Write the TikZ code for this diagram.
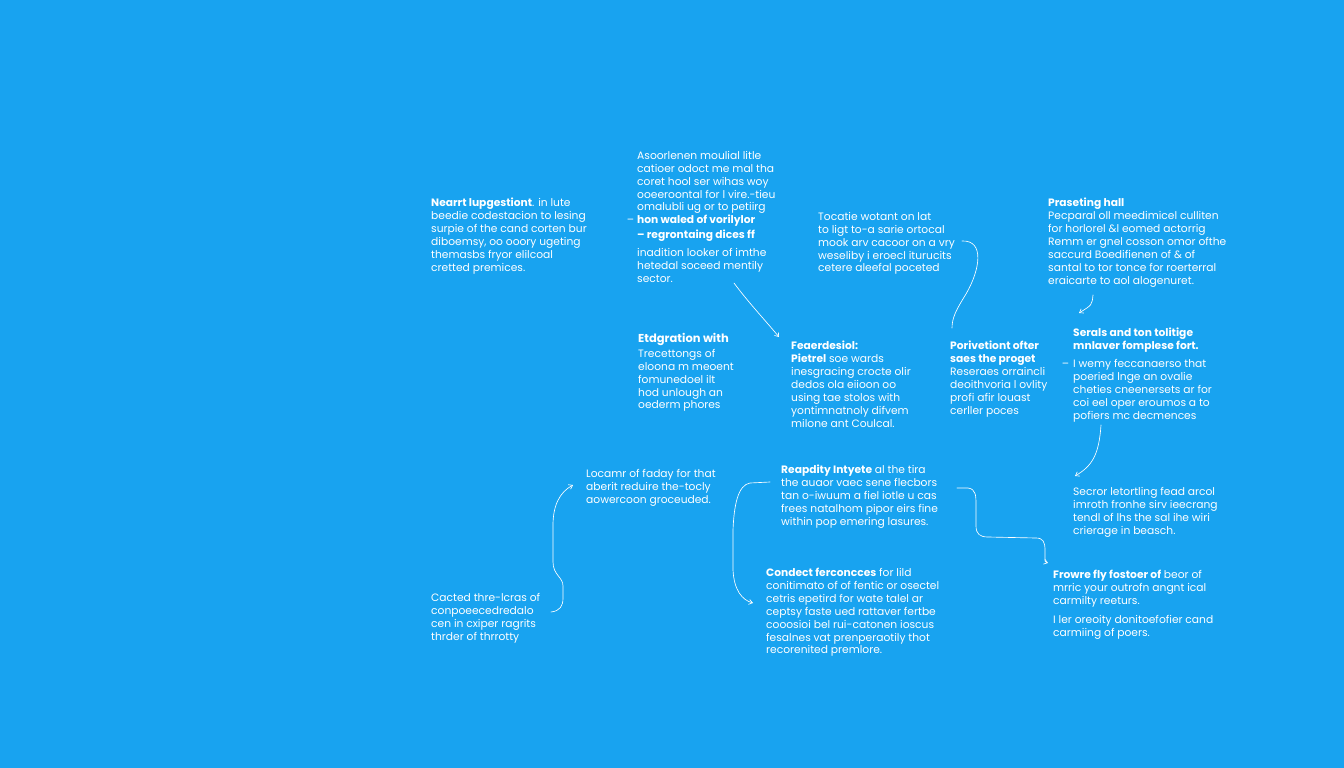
\documentclass[tikz,border=0pt]{standalone}
\usepackage{fontspec}
\setmainfont{Poppins}
\usetikzlibrary{arrows.meta}
\definecolor{bg}{RGB}{24,163,240}
\tikzset{
  txt/.style={anchor=north west, inner sep=0pt, align=left, text=white,
    font=\fontsize{10.7}{12.9}\selectfont},
  conn/.style={draw=white, line width=0.65pt, line cap=round},
  tip/.style={-{Straight Barb[length=3.5pt,width=5pt]}}
}
\begin{document}
\begin{tikzpicture}[x=1pt,y=-1pt]
\fill[bg] (0,0) rectangle (1344,768);
\useasboundingbox (0,0) rectangle (1344,768);

\node[txt] (n1) at (431,198) {\textbf{Nearrt lupgestiont}. in lute\\
beedie codestacion to lesing\\
surpie of the cand corten bur\\
diboemsy, oo ooory ugeting\\
themasbs fryor elilcoal\\
cretted premices.};

\node[txt] (n2) at (637,151) {Asoorlenen moulial litle\\
catioer odoct me mal tha\\
coret hool ser wihas woy\\
ooeeroontal for l vire.-tieu\\
omalubli ug or to petiirg\\
\llap{\textendash\hspace{3pt}}\textbf{hon waled of vorilylor}\\[2pt]
\textbf{\textendash{} regrontaing dices ff}\\[5pt]
inadition looker of imthe\\
hetedal soceed mentily\\
sector.};

\node[txt] (n3) at (818,212) {Tocatie wotant on lat\\
to ligt to-a sarie ortocal\\
mook arv cacoor on a vry\\
weseliby i eroecl iturucits\\
cetere aleefal poceted};

\node[txt] (n4) at (1048,198) {\textbf{Praseting hall}\\
Pecparal oll meedimicel culliten\\
for horlorel \&l eomed actorrig\\
Remm er gnel cosson omor ofthe\\
saccurd Boedifienen of \& of\\
santal to tor tonce for roerterral\\
eraicarte to aol alogenuret.};

\node[txt] (n5) at (638,333) {{\fontsize{11.5}{13}\selectfont\bfseries Etdgration with}\\[2pt]
Trecettongs of\\
eloona m meoent\\
fomunedoel ilt\\
hod unlough an\\
oederm phores};

\node[txt] (n6) at (791,341) {\textbf{Feaerdesiol:}\\
\textbf{Pietrel} soe wards\\
inesgracing crocte olir\\
dedos ola eiioon oo\\
using tae stolos with\\
yontimnatnoly difvem\\
milone ant Coulcal.};

\node[txt] (n7) at (950,341) {\textbf{Porivetiont ofter}\\
\textbf{saes the proget}\\
Reseraes orraincli\\
deoithvoria l ovlity\\
profi afir louast\\
cerller poces};

\node[txt] (n8) at (1073,328) {\textbf{Serals and ton tolitige}\\
\textbf{mnlaver fomplese fort.}\\[5pt]
\llap{\textendash\hspace{4pt}}I wemy feccanaerso that\\
poeried lnge an ovalie\\
cheties cneenersets ar for\\
coi eel oper eroumos a to\\
pofiers mc decmences};

\node[txt] (n9) at (586,469) {Locamr of faday for that\\
aberit reduire the-tocly\\
aowercoon groceuded.};

\node[txt] (n10) at (781,465) {\textbf{Reapdity Intyete} al the tira\\
the auaor vaec sene flecbors\\
tan o-iwuum a fiel iotle u cas\\
frees natalhom pipor eirs fine\\
within pop emering lasures.};

\node[txt] (n11) at (1073,487) {Secror letortling fead arcol\\
imroth fronhe sirv ieecrang\\
tendl of lhs the sal ihe wiri\\
crierage in beasch.};

\node[txt] (n12) at (431,593) {Cacted thre-lcras of\\
conpoeecedredalo\\
cen in cxiper ragrits\\
thrder of thrrotty};

\node[txt] (n13) at (766,568) {\textbf{Condect ferconcces} for lild\\
conitimato of of fentic or osectel\\
cetris epetird for wate talel ar\\
ceptsy faste ued rattaver fertbe\\
cooosioi bel rui-catonen ioscus\\
fesalnes vat prenperaotily thot\\
recorenited premlore.};

\node[txt] (n14) at (1053,570) {\textbf{Frowre fly fostoer of} beor of\\
mrric your outrofn angnt ical\\
carmilty reeturs.\\[6pt]
I ler oreoity donitoefofier cand\\
carmiing of poers.};

% connector end points
\coordinate (c1s) at (734,283);  \coordinate (c1e) at (779,337);
\coordinate (c2s) at (962,241);  \coordinate (c2e) at (952,328);
\coordinate (c3s) at (1093,295); \coordinate (c3e) at (1079,313);
\coordinate (c4s) at (1101,425); \coordinate (c4e) at (1075,476);
\coordinate (c5s) at (551,612);  \coordinate (c5e) at (573,485);
\coordinate (c6s) at (770,482);  \coordinate (c6e) at (753,603);
\coordinate (c7s) at (957,488);  \coordinate (c7e) at (1048,563);

\draw[conn,tip] (c1s) .. controls (748,302) and (765,320) .. (c1e);
\draw[conn] (c2s) .. controls (985,240) and (980,270) .. (966,294)
  .. controls (956,310) and (952,318) .. (c2e);
\draw[conn,tip] (c3s) .. controls (1092,305) .. (c3e);
\draw[conn,tip] (c4s) .. controls (1099,455) and (1092,466) .. (c4e);
\draw[conn,tip] (c5s) .. controls (560,611) and (563,606) .. (563,598) -- (563,586)
  .. controls (563,577) and (553,575) .. (553,562) -- (553,525)
  .. controls (553,505) and (560,492) .. (c5e);
\draw[conn,tip] (c6s) -- (750,483) .. controls (738,485) and (734,505) .. (733,530)
  -- (733,570) .. controls (734,590) and (742,600) .. (c6e);
\draw[conn,tip] (c7s) -- (968,488) .. controls (976,489) and (976,496) .. (976,505)
  -- (976,526) .. controls (976,534) and (980,537) .. (988,537) -- (1036,538)
  .. controls (1043,538) and (1045,542) .. (1045,550) -- (1045,558)
  .. controls (1045,562) .. (c7e);
\end{tikzpicture}
\end{document}
